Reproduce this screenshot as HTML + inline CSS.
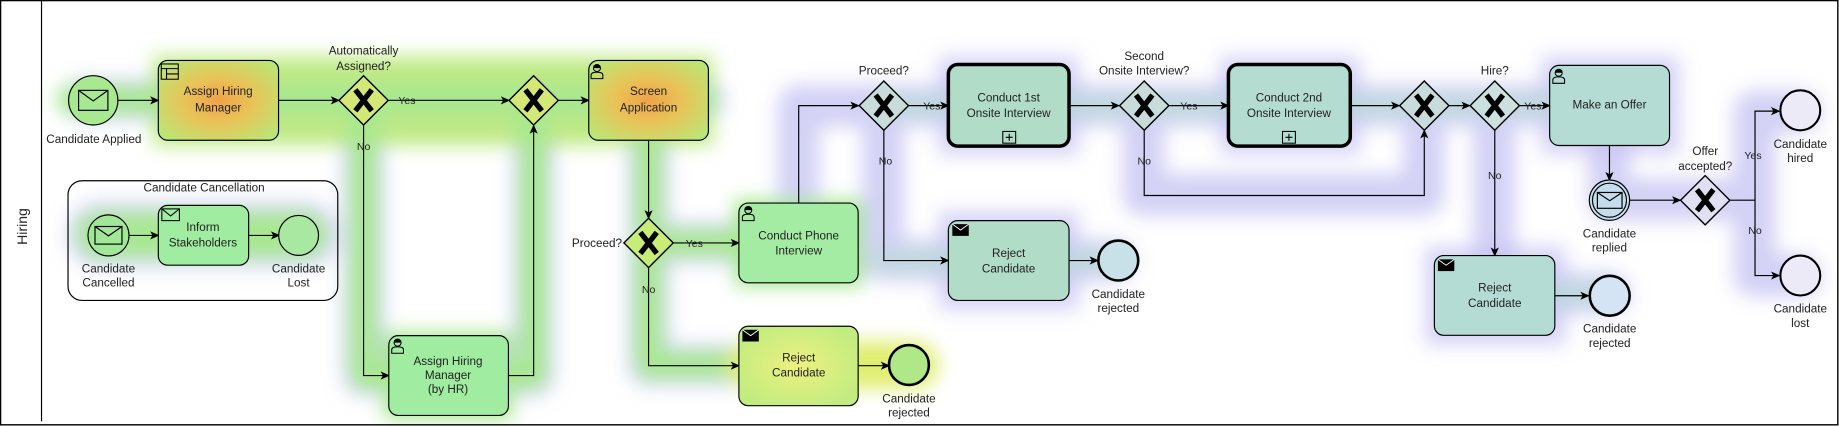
<!DOCTYPE html>
<html><head><meta charset="utf-8"><style>
html,body{margin:0;padding:0;background:#fff;}
svg{display:block;}
text{font-family:"Liberation Sans",sans-serif;font-size:10px;fill:#222;text-anchor:middle;}
</style></head><body>
<svg width="1839" height="426" viewBox="0 0 1568 363" preserveAspectRatio="none" xmlns="http://www.w3.org/2000/svg">
<defs>
<marker id="a" markerWidth="8" markerHeight="8" refX="7" refY="4" orient="auto" markerUnits="userSpaceOnUse"><path d="M0,0.5 L8,4 L0,7.5 L2,4 Z" fill="#000"/></marker>
<filter id="b" x="-50%" y="-50%" width="200%" height="200%"><feGaussianBlur stdDeviation="8"/></filter>
<radialGradient id="og" cx="0.5" cy="0.5" r="0.65"><stop offset="0" stop-color="#f0a24a"/><stop offset="0.45" stop-color="#e8c458"/><stop offset="1" stop-color="#b8e878"/></radialGradient>
<radialGradient id="yg" cx="0.5" cy="0.5" r="0.6"><stop offset="0" stop-color="#eef080"/><stop offset="1" stop-color="#c0ec80"/></radialGradient>
<g id="gw"><path d="M0,-21 L21,0 L0,21 L-21,0 Z" stroke="#000" stroke-width="1.2"/><path d="M-7,-9 L7,9 M7,-9 L-7,9" stroke="#000" stroke-width="4.5"/></g>
<g id="usr"><circle cx="6" cy="4" r="3" fill="none" stroke="#000" stroke-width="0.9"/><path d="M1,13 L1,10 Q1,7.5 6,7.5 Q11,7.5 11,10 L11,13 Z" fill="none" stroke="#000" stroke-width="0.9"/><path d="M3,2 Q6,0 9,2 L9,4 L3,4Z" fill="#000"/></g>
<g id="blk"><rect x="0" y="0" width="14" height="10" fill="#000"/><path d="M0,0 L7,5 L14,0" stroke="#fff" stroke-width="0.8" fill="none"/></g>
</defs>

<!-- heat halos -->
<g filter="url(#b)" fill="none" stroke-linecap="round" stroke-linejoin="round">
  <path d="M70,85 L600,85 M553,85 L553,207 L681,207 L681,90 L1400,90 M310,85 L310,320 L455,320 L455,85 M553,207 L553,311 L780,311 M753,90 L753,222 L950,222 M975,90 L975,166 L1214,166 L1214,90 M1274,90 L1274,250 L1372,250 M1372,90 L1372,170 L1496,170 L1496,95 L1535,95 M1496,170 L1496,235 L1535,235" stroke="#c4c2f2" stroke-width="36" opacity="0.75"/>
  <rect x="800" y="48" width="120" height="84" fill="#c4c2f2" stroke="none" opacity="0.7"/>
  <rect x="1040" y="48" width="120" height="84" fill="#c4c2f2" stroke="none" opacity="0.7"/>
  <rect x="1314" y="48" width="118" height="84" fill="#c4c2f2" stroke="none" opacity="0.7"/>
  <rect x="1215" y="210" width="120" height="84" fill="#c4c2f2" stroke="none" opacity="0.7"/>
  <rect x="800" y="180" width="120" height="84" fill="#c4c2f2" stroke="none" opacity="0.7"/>
  <path d="M85,200 L260,200" stroke="#c4c2f2" stroke-width="56" opacity="0.7"/>
  <rect x="130" y="48" width="478" height="76" fill="#b8e878" stroke="none" opacity="0.9"/>
  <path d="M60,85 L600,85 M553,85 L553,311 L780,311 M553,207 L681,207 M310,85 L310,320 L455,320 L455,85" stroke="#a8e890" stroke-width="24"/>
  <path d="M85,200 L260,200" stroke="#a8e890" stroke-width="40"/>
  <path d="M640,311 L780,311" stroke="#e0ee70" stroke-width="40"/>
  <rect x="626" y="170" width="110" height="74" fill="#a8e890" stroke="none"/>
  <rect x="327" y="283" width="110" height="74" fill="#a8e890" stroke="none"/>
  <path d="M753,90 L1400,90 M753,222 L950,222 M1274,250 L1372,250" stroke="#b8dcd4" stroke-width="18" opacity="0.8"/>
</g>

<!-- border and lane -->
<rect x="0.5" y="0.5" width="1566.5" height="361.5" fill="none" stroke="#000" stroke-width="1.2"/>
<line x1="35.4" y1="0" x2="35.4" y2="359" stroke="#000" stroke-width="1"/>
<text transform="translate(23,193) rotate(-90)" style="font-size:12px">Hiring</text>

<!-- connectors -->
<g stroke="#000" stroke-width="1" fill="none" marker-end="url(#a)">
<path d="M100.5,85.5 L135,85.5"/>
<path d="M237.5,85.5 L289,85.5"/>
<path d="M331.5,85.5 L434,85.5"/>
<path d="M476,85.5 L502,85.5"/>
<path d="M310,107 L310,320 L331.5,320"/>
<path d="M433.5,320 L455,320 L455,107"/>
<path d="M109.6,200.6 L135,200.6"/>
<path d="M212,200.6 L238,200.6"/>
<path d="M553,120 L553,186"/>
<path d="M574,207 L630,207"/>
<path d="M553,228 L553,311.6 L630,311.6"/>
<path d="M731.7,311.6 L758,311.6"/>
<path d="M681,173 L681,90 L732,90"/>
<path d="M775,90 L808.6,90"/>
<path d="M753.6,111 L753.6,222 L808.6,222"/>
<path d="M911.5,222 L936,222"/>
<path d="M911.5,90 L954,90"/>
<path d="M997,90 L1047.4,90"/>
<path d="M975.6,111 L975.6,166.6 L1214.4,166.6 L1214.4,111"/>
<path d="M1151.3,90 L1193,90"/>
<path d="M1235.6,90 L1253,90"/>
<path d="M1296,90 L1321.3,90"/>
<path d="M1274.5,111 L1274.5,217.8"/>
<path d="M1325.7,252 L1354.4,252"/>
<path d="M1372.3,124 L1372.3,153.5"/>
<path d="M1389.5,170.6 L1432.6,170.6"/>
<path d="M1475,170.6 L1496.4,170.6 L1496.4,94.7 L1517,94.7"/>
<path d="M1496.4,170.6 L1496.4,234.8 L1517,234.8"/>
</g>

<!-- events -->
<circle cx="79.5" cy="85.5" r="21" fill="#a8e890" stroke="#000" stroke-width="1"/>
<rect x="67" y="77" width="25" height="17" fill="none" stroke="#000" stroke-width="1"/><path d="M67,77 L79.5,86 L92,77" fill="none" stroke="#000" stroke-width="1"/>
<text x="80" y="122">Candidate Applied</text>

<rect x="58" y="154" width="230" height="102" rx="12" fill="none" stroke="#000" stroke-width="1"/>
<text x="174" y="163">Candidate Cancellation</text>
<circle cx="92.5" cy="200.6" r="17.5" fill="#a0e898" stroke="#000" stroke-width="1"/>
<rect x="81" y="193" width="23" height="15" fill="none" stroke="#000" stroke-width="1"/><path d="M81,193 L92.5,201 L104,193" fill="none" stroke="#000" stroke-width="1"/>
<text x="92.5" y="232">Candidate</text><text x="92.5" y="244">Cancelled</text>
<rect x="135" y="175" width="77" height="51" rx="8" fill="#a0eca0" stroke="#000" stroke-width="1"/>
<rect x="138" y="178" width="15" height="10" fill="none" stroke="#000" stroke-width="0.9"/><path d="M138,178 L145.5,184 L153,178" fill="none" stroke="#000" stroke-width="0.9"/>
<text x="173" y="197">Inform</text><text x="173" y="210">Stakeholders</text>
<circle cx="254.6" cy="200.6" r="17" fill="#a8e8a0" stroke="#000" stroke-width="1"/>
<text x="254.6" y="232">Candidate</text><text x="254.6" y="244">Lost</text>

<!-- tasks -->
<rect x="135" y="51.5" width="102.5" height="68" rx="8" fill="url(#og)" stroke="#000" stroke-width="1"/>
<rect x="137.5" y="54.5" width="14.5" height="13" fill="none" stroke="#000" stroke-width="0.9"/><path d="M137.5,58.5 H152 M142,58.5 V67.5 M142,63 H152" stroke="#000" stroke-width="0.9"/>
<text x="186" y="81">Assign Hiring</text><text x="186" y="95">Manager</text>

<rect x="502" y="51.5" width="102" height="68" rx="8" fill="url(#og)" stroke="#000" stroke-width="1"/>
<use href="#usr" x="503" y="54"/>
<text x="553" y="81">Screen</text><text x="553" y="95">Application</text>

<rect x="331.5" y="286" width="102" height="68" rx="8" fill="#a0eca0" stroke="#000" stroke-width="1"/>
<use href="#usr" x="333" y="288"/>
<text x="382" y="311">Assign Hiring</text><text x="382" y="323">Manager</text><text x="382" y="335">(by HR)</text>

<rect x="630" y="173" width="101.7" height="68" rx="8" fill="#a4eca4" stroke="#000" stroke-width="1"/>
<use href="#usr" x="632" y="175"/>
<text x="681" y="204">Conduct Phone</text><text x="681" y="217">Interview</text>

<rect x="630" y="278" width="101.7" height="67.7" rx="8" fill="url(#yg)" stroke="#000" stroke-width="1"/>
<use href="#blk" x="633" y="281"/>
<text x="681" y="308">Reject</text><text x="681" y="321">Candidate</text>
<circle cx="775" cy="311" r="17" fill="#b0e888" stroke="#000" stroke-width="2.2"/>
<text x="775" y="343">Candidate</text><text x="775" y="355">rejected</text>

<rect x="808.6" y="55" width="102.9" height="69.5" rx="8" fill="#b0dcc8" stroke="#000" stroke-width="3"/>
<rect x="855" y="112" width="11" height="10" fill="none" stroke="#000" stroke-width="0.9"/><path d="M857.5,117 H863.5 M860.5,114 V120" stroke="#000" stroke-width="0.9"/>
<text x="860" y="86.5">Conduct 1st</text><text x="860" y="99.5">Onsite Interview</text>

<rect x="808.6" y="188" width="102.9" height="68" rx="8" fill="#b0dcc8" stroke="#000" stroke-width="1"/>
<use href="#blk" x="812" y="191"/>
<text x="860" y="219">Reject</text><text x="860" y="232">Candidate</text>
<circle cx="953.5" cy="222" r="17" fill="#c8e0e8" stroke="#000" stroke-width="2.2"/>
<text x="953.5" y="254">Candidate</text><text x="953.5" y="266">rejected</text>

<rect x="1047.4" y="55" width="103.9" height="69.5" rx="8" fill="#b4dcd0" stroke="#000" stroke-width="3"/>
<rect x="1093.5" y="112" width="11" height="10" fill="none" stroke="#000" stroke-width="0.9"/><path d="M1096,117 H1102 M1099,114 V120" stroke="#000" stroke-width="0.9"/>
<text x="1099" y="86.5">Conduct 2nd</text><text x="1099" y="99.5">Onsite Interview</text>

<rect x="1321.3" y="55.7" width="102.2" height="68.3" rx="8" fill="#b4dcd4" stroke="#000" stroke-width="1"/>
<use href="#usr" x="1323" y="58"/>
<text x="1372.3" y="92.5">Make an Offer</text>

<rect x="1223" y="217.8" width="102.7" height="67.9" rx="8" fill="#b4dcd4" stroke="#000" stroke-width="1"/>
<use href="#blk" x="1226" y="221"/>
<text x="1274.5" y="248.5">Reject</text><text x="1274.5" y="261.5">Candidate</text>
<circle cx="1372.5" cy="252" r="17" fill="#d4e4f4" stroke="#000" stroke-width="2.2"/>
<text x="1372.5" y="283.5">Candidate</text><text x="1372.5" y="295.5">rejected</text>

<circle cx="1372.3" cy="170.6" r="17.2" fill="#c4dcec" stroke="#000" stroke-width="1"/>
<circle cx="1372.3" cy="170.6" r="14.5" fill="none" stroke="#000" stroke-width="1"/>
<rect x="1362" y="164" width="21" height="13.5" fill="none" stroke="#000" stroke-width="1"/><path d="M1362,164 L1372.5,171 L1383,164" fill="none" stroke="#000" stroke-width="1"/>
<text x="1372.3" y="202.5">Candidate</text><text x="1372.3" y="214.5">replied</text>

<circle cx="1535" cy="94" r="17" fill="#eceaf6" stroke="#000" stroke-width="1.8"/>
<text x="1535" y="126">Candidate</text><text x="1535" y="138">hired</text>
<circle cx="1535" cy="234.8" r="17" fill="#eceaf6" stroke="#000" stroke-width="1.8"/>
<text x="1535" y="266.5">Candidate</text><text x="1535" y="278.5">lost</text>

<!-- gateways -->
<use href="#gw" x="310" y="85.5" fill="#d4e878"/>
<use href="#gw" x="455" y="85.5" fill="#d4e878"/>
<use href="#gw" x="553" y="207" fill="#c8ec78"/>
<use href="#gw" x="753.6" y="90" fill="#c8dcdc"/>
<use href="#gw" x="975.6" y="90" fill="#c8dcdc"/>
<use href="#gw" x="1214.4" y="90" fill="#c8dcdc"/>
<use href="#gw" x="1274.5" y="90" fill="#cce0e0"/>
<use href="#gw" x="1453.9" y="170.6" fill="#e0e0f2"/>

<!-- labels -->
<text x="310" y="46.5">Automatically</text><text x="310" y="59.5">Assigned?</text>
<text x="347" y="88.5" style="font-size:9px">Yes</text>
<text x="310" y="128" style="font-size:9px">No</text>
<text x="509" y="210.5">Proceed?</text>
<text x="592" y="210.5" style="font-size:9px">Yes</text>
<text x="553" y="249.5" style="font-size:9px">No</text>
<text x="753.6" y="63.5">Proceed?</text>
<text x="794.5" y="93.5" style="font-size:9px">Yes</text>
<text x="755" y="140" style="font-size:9px">No</text>
<text x="975.6" y="51">Second</text><text x="975.6" y="63.5">Onsite Interview?</text>
<text x="1013.7" y="93.5" style="font-size:9px">Yes</text>
<text x="975.6" y="140" style="font-size:9px">No</text>
<text x="1274.5" y="63.5">Hire?</text>
<text x="1307" y="93.5" style="font-size:9px">Yes</text>
<text x="1274.5" y="152.5" style="font-size:9px">No</text>
<text x="1454" y="132">Offer</text><text x="1454" y="145">accepted?</text>
<text x="1494.7" y="135.5" style="font-size:9px">Yes</text>
<text x="1496.4" y="199.5" style="font-size:9px">No</text>
</svg>
</body></html>
